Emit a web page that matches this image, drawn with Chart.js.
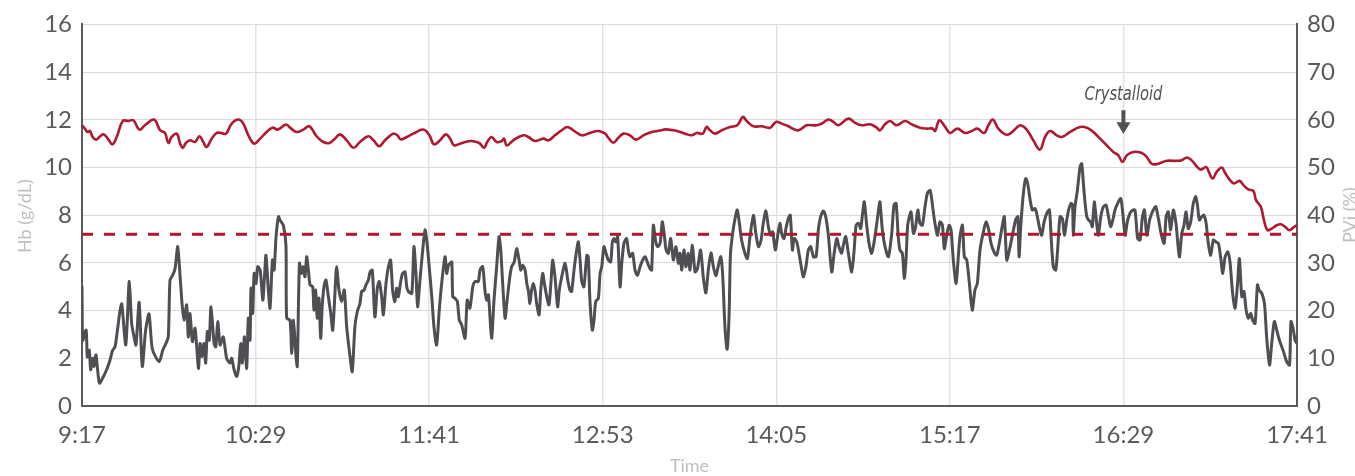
<!DOCTYPE html>
<html>
<head>
<meta charset="utf-8">
<script src="https://cdn.jsdelivr.net/npm/chart.js@4.4.1/dist/chart.umd.min.js"></script>
<style>
  html, body { margin: 0; padding: 0; background: #ffffff; }
  #wrap { width: 1355px; height: 476px; }
</style>
</head>
<body>
<div id="wrap"><canvas id="c" width="1355" height="476"></canvas></div>
<script>
// ---- Data (minutes after 9:17) ----
const timeLabels = ['9:17', '10:29', '11:41', '12:53', '14:05', '15:17', '16:29', '17:41'];
const tickMinutes = [0, 72, 144, 216, 288, 360, 432, 504];
const hbThreshold = 7.2;            // g/dL, dashed line
const crystalloidMinute = 432;      // 16:29
const crystalloidLabel = 'Crystalloid';

// Hb (g/dL) samples: [minute, value]
const hbSamples = [[0,11.77],[1.2,11.63],[2.2,11.49],[3.3,11.53],[4.4,11.28],[5.8,11.17],[7.2,11.28],[8.9,11.39],[11.0,11.17],[12.6,10.97],[14.4,11.28],[16.9,11.95],[19.2,11.95],[21.3,11.98],[23.8,11.59],[26.1,11.77],[29.9,12.01],[32.4,11.56],[34.4,11.45],[35.8,11.03],[37.2,11.28],[39.3,11.42],[40.7,11.0],[41.8,10.82],[43.1,11.03],[44.8,11.14],[46.9,11.07],[48.7,11.31],[50.3,11.07],[51.7,10.86],[53.8,11.21],[55.9,11.45],[57.5,11.45],[59.7,11.42],[62.1,11.84],[64.9,12.01],[66.9,11.84],[69.0,11.35],[71.4,11.0],[73.9,11.21],[76.6,11.49],[79.1,11.67],[81.2,11.59],[84.6,11.80],[86.3,11.67],[89.0,11.49],[91.8,11.59],[94.3,11.73],[97.3,11.31],[100.1,11.07],[102.6,11.03],[104.9,11.21],[107.0,11.39],[109.8,11.14],[112.6,10.83],[115.3,11.07],[118.8,11.31],[120.9,11.14],[123.3,10.89],[125.7,11.14],[129.1,11.42],[130.8,11.35],[132.2,11.18],[134.7,11.28],[137.4,11.42],[141.6,11.59],[144.1,11.35],[146.0,10.97],[148.5,11.14],[150.9,11.39],[152.7,11.21],[154.3,10.93],[156.8,11.0],[161.0,11.11],[163.7,11.07],[165.1,11.0],[166.8,10.83],[168.1,11.07],[169.9,11.28],[172.0,11.07],[174.1,11.11],[175.1,11.21],[176.2,10.93],[178.9,11.14],[183.1,11.35],[185.2,11.28],[187.9,11.11],[191.4,11.21],[193.5,11.14],[196.2,11.35],[199.0,11.56],[201.3,11.70],[203.8,11.56],[207.3,11.35],[210.7,11.45],[214.2,11.53],[217.0,11.42],[218.3,11.25],[220.4,11.04],[222.5,11.25],[224.6,11.42],[227.3,11.35],[229.8,11.17],[232.9,11.35],[236.3,11.49],[240.5,11.56],[241.9,11.60],[245.3,11.56],[248.1,11.49],[250.1,11.42],[252.9,11.35],[255.0,11.45],[257.5,11.42],[259.1,11.70],[260.5,11.56],[262.6,11.42],[265.4,11.56],[268.8,11.70],[271.8,11.77],[274.1,12.12],[275.7,11.95],[278.5,11.73],[281.9,11.73],[285.4,11.67],[287.9,11.91],[290.2,11.84],[293.0,11.73],[296.5,11.56],[298.5,11.63],[300.6,11.77],[304.8,11.77],[306.8,11.84],[309.6,12.01],[311.7,11.91],[313.8,11.77],[317.9,12.05],[320.7,11.87],[323.4,11.77],[326.9,11.81],[329.7,11.67],[331.0,11.56],[333.1,11.81],[335.2,11.95],[337.9,11.77],[341.4,11.95],[344.2,11.81],[347.6,11.67],[350.4,11.63],[352.9,11.63],[353.9,11.53],[355.6,11.98],[357.6,11.77],[360.1,11.45],[363.1,11.63],[366.3,11.45],[369.1,11.53],[371.4,11.63],[374.2,11.45],[376.0,11.77],[377.8,12.01],[380.1,11.63],[382.9,11.39],[385.0,11.42],[387.7,11.67],[389.4,11.77],[391.9,11.59],[394.6,11.14],[397.4,10.75],[399.5,11.28],[401.6,11.53],[404.3,11.35],[406.4,11.28],[409.9,11.49],[414.0,11.70],[416.8,11.67],[419.5,11.49],[422.3,11.21],[425.1,10.93],[427.8,10.65],[429.9,10.51],[431.6,10.23],[433.4,10.51],[436.1,10.65],[439.6,10.61],[441.7,10.44],[443.7,10.16],[445.8,10.14],[450.0,10.28],[454.1,10.28],[456.2,10.30],[458.3,10.42],[460.3,10.30],[462.4,10.05],[464.1,9.91],[466.3,10.02],[467.7,9.75],[469.0,9.54],[470.7,9.82],[472.8,10.0],[474.2,9.77],[476.2,9.47],[477.9,9.33],[480.1,9.44],[481.8,9.26],[483.8,9.08],[485.9,9.02],[487.0,8.63],[489.0,8.35],[490.3,7.79],[491.7,7.37],[493.5,7.44],[495.6,7.58],[497.3,7.62],[499.1,7.51],[500.9,7.37],[502.8,7.51],[504,7.58]];

// PVi (%) samples: [minute, value]
const pviSamples = [[0,25.0],[0.3,13.8],[1.7,15.9],[2.2,10.3],[3.0,11.7],[3.6,7.6],[4.4,10.0],[5.0,8.3],[5.8,10.7],[7.2,4.8],[8.9,6.2],[10.2,7.6],[11.6,9.6],[12.7,11.7],[13.7,12.4],[14.7,15.9],[15.8,20.1],[16.5,21.4],[18.1,12.8],[18.8,18.0],[19.6,26.1],[20.6,17.3],[21.6,14.5],[22.4,12.8],[23.7,21.7],[25.0,8.3],[26.4,15.9],[27.8,19.3],[29.2,11.9],[32.0,9.3],[33.5,11.7],[34.8,13.1],[35.8,14.5],[36.5,26.4],[37.6,27.4],[38.6,28.8],[39.7,33.4],[40.7,27.1],[41.5,21.5],[42.3,18.0],[43.4,21.2],[44.1,14.5],[44.8,19.4],[45.8,13.5],[46.9,16.3],[48.3,7.9],[49.0,13.1],[49.8,10.3],[50.6,13.1],[51.3,9.0],[52.0,15.6],[52.8,13.8],[53.5,20.8],[54.8,13.1],[55.5,12.4],[56.3,17.7],[57.3,12.8],[58.6,14.5],[60.0,10.0],[61.4,9.0],[62.1,10.0],[63.1,7.6],[64.2,6.2],[65.1,8.6],[65.8,13.1],[66.5,9.0],[67.4,14.5],[68.3,7.9],[69.0,18.4],[69.7,13.8],[70.1,24.7],[70.8,19.4],[71.4,27.8],[72.2,25.7],[72.9,29.2],[73.9,28.5],[75.0,22.2],[75.7,27.1],[76.3,31.6],[77.3,24.3],[78.0,20.5],[79.0,30.6],[79.7,28.5],[80.5,35.5],[81.5,39.7],
[82.1,39.0],[83.5,37.9],[84.6,33.7],[84.9,18.4],[86.3,18.0],[87.0,11.0],[87.7,18.0],[88.8,10.3],[89.3,8.3],[90.2,29.9],[91.1,27.8],[91.8,29.2],[92.5,27.1],[93.2,31.3],[93.9,28.5],[94.6,25.4],[95.7,25.0],[96.2,20.1],[96.9,24.3],[97.6,18.4],[98.3,22.6],[99.0,14.2],[99.7,21.5],[100.5,25.4],[101.2,26.4],[102.2,22.9],[103.2,19.4],[104.0,15.9],[105.0,24.3],[105.6,29.2],[106.6,24.3],[107.7,21.9],[108.8,24.3],[109.8,16.6],[111.2,10.3],[112.1,7.2],[113.2,16.6],[114.2,19.8],[115.3,21.5],[116.0,24.0],[117.0,24.3],[117.8,25.4],[118.8,26.4],[119.5,28.1],[120.4,28.5],[121.5,18.7],[122.5,24.7],[123.3,26.1],[124.3,22.9],[125.0,19.1],[126.1,25.7],[127.1,29.2],[128.0,30.6],[128.9,24.0],[129.8,21.9],[130.5,24.7],[131.2,22.9],[132.2,26.1],[133.0,27.8],[134.0,28.1],[134.7,25.0],[135.4,24.0],[136.8,23.6],[137.7,33.4],[138.6,27.1],[139.2,20.8],[140.2,26.4],[141.2,32.0],[142.3,36.9],[143.0,34.8],[143.9,29.9],[145.1,22.9],[146.0,16.6],[147.1,12.8],[148.2,20.1],[149.2,25.7],[150.6,31.3],[151.3,27.8],[152.0,29.5],[152.7,29.9],[153.4,30.2],[153.8,22.9],[154.7,22.6],[155.7,21.9],[156.5,18.0],[157.5,17.0],[158.9,14.2],[159.8,22.2],[160.9,20.5],[162.1,25.0],[163.0,26.1],[164.4,26.1],
[165.1,28.5],[166.2,29.2],[167.2,24.0],[167.9,22.2],[168.6,23.3],[169.9,14.2],[170.9,22.2],[172.0,29.2],[173.0,35.5],[173.7,32.7],[174.5,25.7],[175.5,18.4],[176.2,21.5],[177.3,26.4],[178.2,29.2],[179.3,30.2],[180.3,33.0],[181.3,30.6],[182.0,28.5],[182.8,29.5],[183.8,28.5],[184.5,25.7],[185.2,24.0],[185.8,21.5],[186.5,24.3],[187.2,25.7],[187.9,24.3],[188.6,21.5],[189.6,19.1],[190.3,24.3],[191.1,27.8],[191.8,25.7],[192.8,22.9],[193.7,21.2],[194.6,26.4],[195.2,30.6],[196.2,27.1],[197.3,20.8],[198.0,24.3],[199.0,27.1],[200.4,29.9],[201.5,26.4],[202.4,24.3],[203.1,24.0],[204.1,28.5],[205.2,32.7],[205.9,34.4],[206.6,30.6],[207.3,26.1],[208.2,25.0],[209.4,31.6],[210.0,31.3],[210.7,22.2],[211.7,15.9],[212.4,18.0],[213.1,21.9],[214.2,22.6],[214.9,27.8],[215.6,29.2],[216.5,33.4],[217.4,32.0],[218.3,30.6],[219.3,30.2],[220.0,34.4],[220.7,35.1],[221.5,34.4],[222.2,35.5],[223.2,25.0],[223.9,29.9],[224.8,34.1],[225.9,35.1],[226.6,32.7],[227.3,31.3],[228.4,32.0],[229.4,28.5],[230.4,27.4],[231.5,29.2],[232.6,30.6],[233.6,31.3],[234.7,29.9],[235.6,28.8],[236.3,28.5],[237.0,37.9],[238.0,34.4],[238.8,33.4],[239.8,34.1],[240.7,38.6],[241.4,36.5],[242.3,32.7],[243.2,32.0],[244.2,35.1],[245.3,30.6],[246.4,33.4],[247.4,29.9],
[248.1,32.0],[248.8,28.5],[249.7,32.7],[250.5,29.2],[251.5,32.0],[252.2,28.5],[253.2,33.7],[254.3,28.1],[255.3,28.8],[256.6,32.7],[257.7,27.1],[258.8,23.7],[259.8,28.5],[260.9,32.1],[261.9,29.2],[263.0,27.3],[264.0,29.5],[265.0,31.3],[265.8,27.1],[266.7,16.6],[267.6,11.9],[268.4,18.7],[269.0,32.0],[269.9,36.2],[270.9,39.3],[271.8,41.1],[272.7,38.3],[273.6,34.8],[275.0,32.0],[276.0,30.9],[277.1,35.5],[278.5,40.0],[279.5,36.2],[280.6,33.4],[281.7,34.8],[282.6,38.3],[283.7,40.9],[284.7,37.6],[285.7,35.8],[286.5,36.5],[287.6,32.7],[288.6,35.8],[289.5,38.3],[290.2,36.2],[291.2,35.1],[292.0,37.2],[293.0,39.3],[293.8,40.0],[294.7,32.7],[295.4,35.1],[296.5,34.4],[297.8,30.9],[299.2,27.1],[300.3,29.2],[301.3,32.7],[302.3,33.4],[303.4,31.3],[304.5,31.3],[305.5,37.2],[306.4,39.7],[307.5,40.9],[308.5,39.7],[309.6,35.8],[311.0,28.1],[312.0,32.0],[313.1,35.1],[314.0,33.4],[315.1,32.0],[315.8,33.7],[316.8,35.5],[317.9,32.0],[319.3,28.1],[320.3,32.7],[321.1,37.9],[322.1,38.3],[323.0,37.2],[323.8,40.4],[324.5,42.8],[325.5,37.9],[326.6,33.7],[327.6,32.0],[328.5,34.1],[329.7,38.3],[330.6,41.8],
[331.0,42.8],[332.0,36.9],[333.1,33.4],[334.5,31.3],[335.9,36.2],[336.8,42.1],[337.7,42.5],[338.6,35.5],[339.3,32.7],[340.3,32.0],[341.1,26.8],[341.8,30.6],[342.5,37.9],[343.2,39.7],[343.9,40.7],[344.9,36.2],[345.8,37.6],[346.7,41.1],[347.6,38.3],[348.6,37.9],[349.7,41.8],[350.7,44.6],[351.8,45.2],[352.5,43.2],[353.4,39.7],[354.3,36.9],[354.9,35.8],[355.9,38.6],[356.9,37.9],[357.7,33.0],[358.7,35.8],[359.7,37.9],[360.5,36.9],[361.5,30.2],[362.6,25.7],[363.5,31.3],[364.2,35.5],[365.2,37.9],[366.0,31.3],[367.0,30.6],[368.1,25.7],[369.3,20.1],[370.4,24.3],[371.4,25.7],[372.5,32.7],[373.9,36.5],[375.0,38.6],[376.0,37.2],[377.1,34.1],[378.3,32.3],[379.4,31.6],[380.5,34.1],[381.8,37.9],[382.6,39.7],[383.6,30.6],[384.7,32.7],[386.1,36.2],[387.3,39.0],[388.2,39.7],[388.7,31.3],[389.4,37.6],[390.5,44.6],[391.5,47.7],[392.3,46.6],[393.3,43.2],[394.2,41.1],[395.3,41.4],[396.0,40.4],[397.1,37.6],[398.1,35.8],[399.1,38.6],[400.2,40.4],[401.3,41.1],[402.0,35.5],[402.9,29.2],[403.9,28.5],[404.7,32.7],[405.7,39.7],[406.7,39.3],[407.5,35.8],[408.5,39.0],[409.4,41.4],[410.3,42.5],[410.9,42.1],[411.2,35.8],[411.9,41.8],[412.9,45.2],[414.0,50.1],[414.7,50.8],
[415.4,46.6],[416.1,42.5],[416.8,39.7],[417.5,39.0],[418.4,38.6],[419.1,37.6],[419.9,42.8],[420.9,38.3],[421.6,35.8],[422.6,39.7],[423.7,41.8],[424.8,42.1],[425.8,39.7],[426.7,37.6],[427.6,39.0],[428.5,41.1],[429.9,42.8],[430.9,43.5],[431.6,41.1],[432.7,35.8],[433.6,38.6],[434.7,40.4],[435.9,41.1],[436.8,41.1],[437.9,35.1],[438.9,34.8],[439.9,39.7],[440.7,41.1],[441.7,35.8],[443.0,39.3],[444.4,41.1],[445.4,41.8],[446.5,39.3],[447.6,36.2],[448.9,34.1],[449.7,39.7],[450.6,40.7],[451.6,36.9],[452.7,41.1],[453.8,38.3],[455.2,31.3],[456.2,36.2],[457.1,37.9],[458.0,40.7],[458.9,37.2],[459.9,38.6],[461.0,42.5],[462.0,43.9],[462.7,42.1],[463.5,39.0],[464.5,39.7],[465.4,40.0],[466.3,38.3],[467.2,34.1],[468.2,31.6],[469.3,34.8],[470.4,34.4],[471.4,34.1],[472.4,30.9],[473.2,27.8],[474.2,31.3],[475.3,32.3],[476.2,30.2],[477.3,23.6],[478.3,20.5],[479.3,25.4],[480.1,30.9],[481.1,22.9],[482.0,24.0],[482.9,20.1],[483.8,18.4],[484.8,19.4],[485.6,18.0],[486.6,17.3],[487.6,25.4],[488.3,24.3],[489.4,23.6],[490.5,21.5],[491.4,14.5],[492.6,8.6],[493.5,13.1],[494.6,17.7],[495.6,15.9],[496.7,13.8],[498.4,11.4],[499.7,9.3],[500.9,8.6],[501.5,17.7],[502.5,15.9],[503.2,13.8],[504,13.1]];

// ---- Styling ----
const RED = '#B0182F';
const GRAY = '#4E4F53';
const AXIS = '#58595B';
const TICK_FONT = { family: 'Lato, "Open Sans", sans-serif', size: 24 };
const TICK_COLOR = '#5A5A5E';

const overlay = {
  id: 'overlay',
  afterDraw(chart) {
    const { ctx, chartArea: a, scales } = chart;
    const cy = (a.top + a.bottom) / 2;
    ctx.save();
    ctx.fillStyle = '#BEBEBE';
    ctx.font = '18px Lato, "Open Sans", sans-serif';
    ctx.textAlign = 'center';
    ctx.textBaseline = 'alphabetic';
    // left axis title
    ctx.save(); ctx.translate(a.left - 51, cy + 1); ctx.rotate(-Math.PI / 2);
    ctx.fillText('Hb (g/dL)', 0, 0); ctx.restore();
    // right axis title
    ctx.save(); ctx.translate(a.right + 59, cy); ctx.rotate(-Math.PI / 2);
    ctx.fillText('PVi (%)', 0, 0); ctx.restore();
    // x title
    ctx.fillText('Time', (a.left + a.right) / 2, a.bottom + 66);

    // annotation
    const x = scales.x.getPixelForValue(crystalloidMinute);
    const yText = scales.y.getPixelForValue(13.0);
    const yShaftTop = scales.y.getPixelForValue(12.4);
    const yHeadTop = scales.y.getPixelForValue(11.9);
    const yTip = scales.y.getPixelForValue(11.4);
    ctx.fillStyle = '#505155';
    ctx.fillRect(x - 2, yShaftTop, 4, yHeadTop - yShaftTop + 1);
    ctx.beginPath();
    ctx.moveTo(x - 7, yHeadTop);
    ctx.lineTo(x + 7, yHeadTop);
    ctx.lineTo(x, yTip);
    ctx.closePath();
    ctx.fill();

    ctx.font = 'italic 19px "Liberation Sans Narrow", "DejaVu Sans Condensed", "Open Sans", sans-serif';
    const w = ctx.measureText(crystalloidLabel).width;
    const target = 78;
    ctx.save();
    ctx.translate(x, yText + 4);
    if (w > target) ctx.scale(target / w, 1);
    ctx.fillText(crystalloidLabel, 0, 0);
    ctx.restore();
    ctx.restore();
  }
};

const toPoints = arr => arr.map(p => ({ x: p[0], y: p[1] }));

new Chart(document.getElementById('c'), {
  type: 'line',
  data: {
    datasets: [
      {
        label: 'Threshold',
        data: [{ x: 0, y: hbThreshold }, { x: 504, y: hbThreshold }],
        yAxisID: 'y',
        borderColor: RED,
        borderWidth: 3,
        borderDash: [11, 11],
        pointRadius: 0,
        tension: 0
      },
      {
        label: 'Hb',
        data: toPoints(hbSamples),
        yAxisID: 'y',
        borderColor: RED,
        borderWidth: 2.6,
        pointRadius: 0,
        tension: 0.4,
        borderCapStyle: 'round',
        borderJoinStyle: 'round'
      },
      {
        label: 'PVi',
        data: toPoints(pviSamples),
        yAxisID: 'y1',
        borderColor: GRAY,
        borderWidth: 3,
        pointRadius: 0,
        tension: 0.25,
        borderCapStyle: 'round',
        borderJoinStyle: 'round'
      }
    ]
  },
  options: {
    responsive: false,
    animation: false,
    events: [],
    layout: { padding: { top: 24, left: 0, right: 0, bottom: 0 } },
    plugins: { legend: { display: false }, tooltip: { enabled: false } },
    scales: {
      x: {
        type: 'linear',
        min: 0,
        max: 504,
        afterBuildTicks: s => { s.ticks = tickMinutes.map(v => ({ value: v })); },
        afterFit: s => { s.height = 70; },
        ticks: {
          autoSkip: false, maxRotation: 0, padding: 15,
          font: TICK_FONT, color: TICK_COLOR,
          callback: (v, i) => timeLabels[i]
        },
        grid: { color: '#E3E3E3', lineWidth: 1.5, drawTicks: false },
        border: { display: true, color: AXIS, width: 2 }
      },
      y: {
        position: 'left',
        min: 0, max: 16,
        afterFit: s => { s.width = 82; },
        ticks: { stepSize: 2, padding: 10, font: TICK_FONT, color: TICK_COLOR },
        grid: { color: '#DADADA', lineWidth: 1, drawTicks: false },
        border: { display: true, color: AXIS, width: 2 }
      },
      y1: {
        position: 'right',
        min: 0, max: 80,
        afterFit: s => { s.width = 58; },
        ticks: { stepSize: 10, padding: 10, font: TICK_FONT, color: TICK_COLOR },
        grid: { drawOnChartArea: false, drawTicks: false },
        border: { display: true, color: AXIS, width: 2 }
      }
    }
  },
  plugins: [overlay]
});
</script>
</body>
</html>
